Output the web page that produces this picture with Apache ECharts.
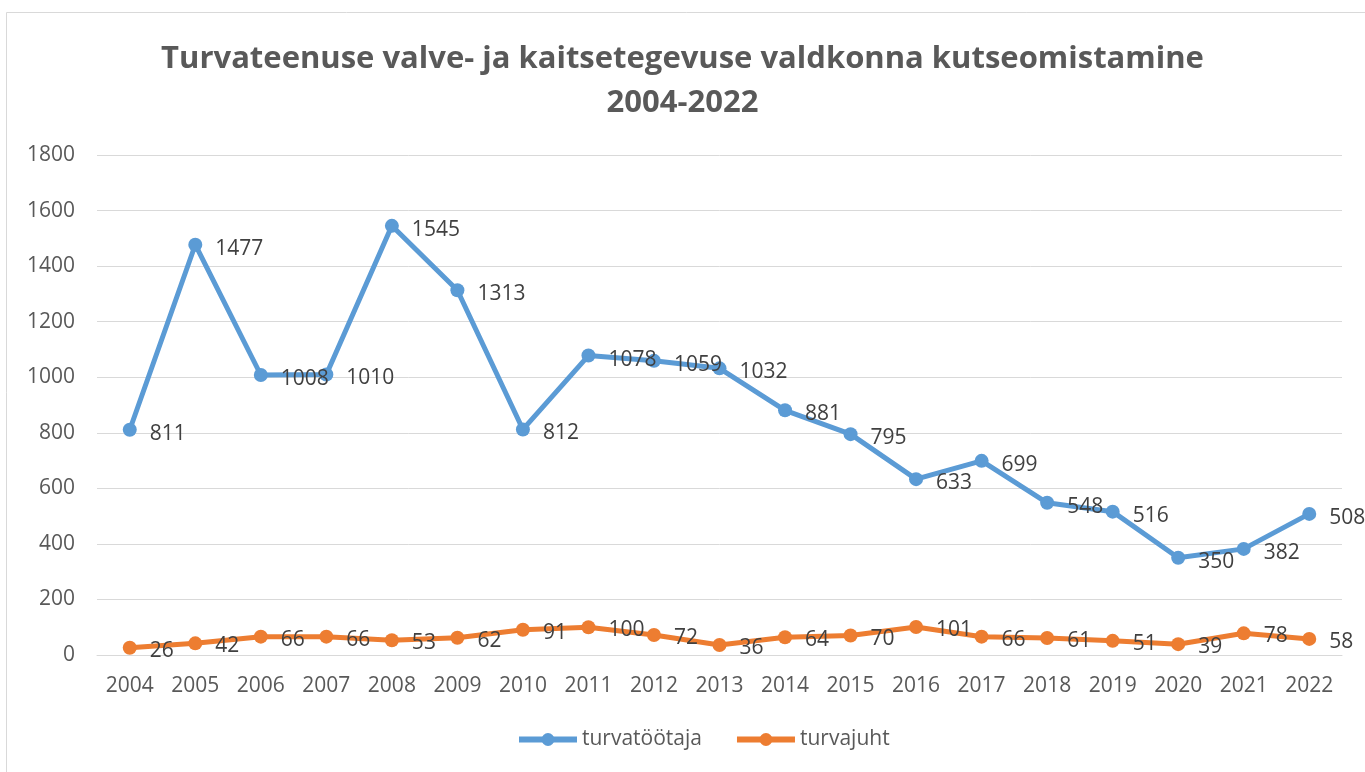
<!DOCTYPE html>
<html><head><meta charset="utf-8">
<script src="https://cdn.jsdelivr.net/npm/echarts@6/dist/echarts.min.js"></script>
<style>html,body{margin:0;padding:0;background:#fff}#c{width:1365px;height:772px}</style>
</head><body><div id="c"></div>
<script>
const years = ['2004','2005','2006','2007','2008','2009','2010','2011','2012','2013','2014','2015','2016','2017','2018','2019','2020','2021','2022'];
const turvatootaja = [811,1477,1008,1010,1545,1313,812,1078,1059,1032,881,795,633,699,548,516,350,382,508];
const turvajuht = [26,42,66,66,53,62,91,100,72,36,64,70,101,66,61,51,39,78,58];
const yTicks = [0,200,400,600,800,1000,1200,1400,1600,1800];

const FONT = '"Open Sans", "Noto Sans", sans-serif';
const chart = echarts.init(document.getElementById('c'), null, {renderer:'canvas'});
chart.setOption({
  animation:false,
  backgroundColor:'#fff',
  graphic:[{type:'rect', shape:{x:6.5,y:12.5,width:1370,height:800}, style:{fill:null, stroke:'#d9d9d9', lineWidth:1}, silent:true}],
  title:{
    text:'Turvateenuse valve- ja kaitsetegevuse valdkonna kutseomistamine\n2004-2022',
    left:'center', top:32,
    textStyle:{fontFamily:FONT, fontSize:31, fontWeight:'bold', color:'#595959', lineHeight:44}
  },
  legend:{
    bottom:17, left:511, itemWidth:58, itemHeight:16, itemGap:32,
    lineStyle:{width:6},
    textStyle:{fontFamily:FONT, fontSize:21, color:'#595959'},
    data:['turvatöötaja','turvajuht']
  },
  grid:{left:97, right:23, top:155, bottom:117, containLabel:false},
  xAxis:{
    type:'category', data:years, boundaryGap:true,
    axisLine:{lineStyle:{color:'#d9d9d9', width:1}},
    axisTick:{show:false},
    axisLabel:{fontFamily:FONT, fontSize:21, color:'#595959', margin:21}
  },
  yAxis:{
    type:'value', min:0, max:1800, interval:200,
    axisLine:{show:false}, axisTick:{show:false},
    splitLine:{lineStyle:{color:'#d9d9d9', width:1}},
    axisLabel:{fontFamily:FONT, fontSize:21, color:'#595959', margin:22,
      formatter:v=>yTicks.includes(v)?String(v):''}
  },
  series:[
    {name:'turvatöötaja', type:'line', data:turvatootaja, color:'#5B9BD5',
     lineStyle:{width:5}, symbol:'circle', symbolSize:14,
     label:{show:true, position:'right', distance:13, offset:[0,4], fontFamily:FONT, fontSize:21, color:'#404040'}},
    {name:'turvajuht', type:'line', data:turvajuht, color:'#ED7D31',
     lineStyle:{width:5}, symbol:'circle', symbolSize:14,
     label:{show:true, position:'right', distance:13, offset:[0,3], fontFamily:FONT, fontSize:21, color:'#404040'}}
  ]
});
</script></body></html>
